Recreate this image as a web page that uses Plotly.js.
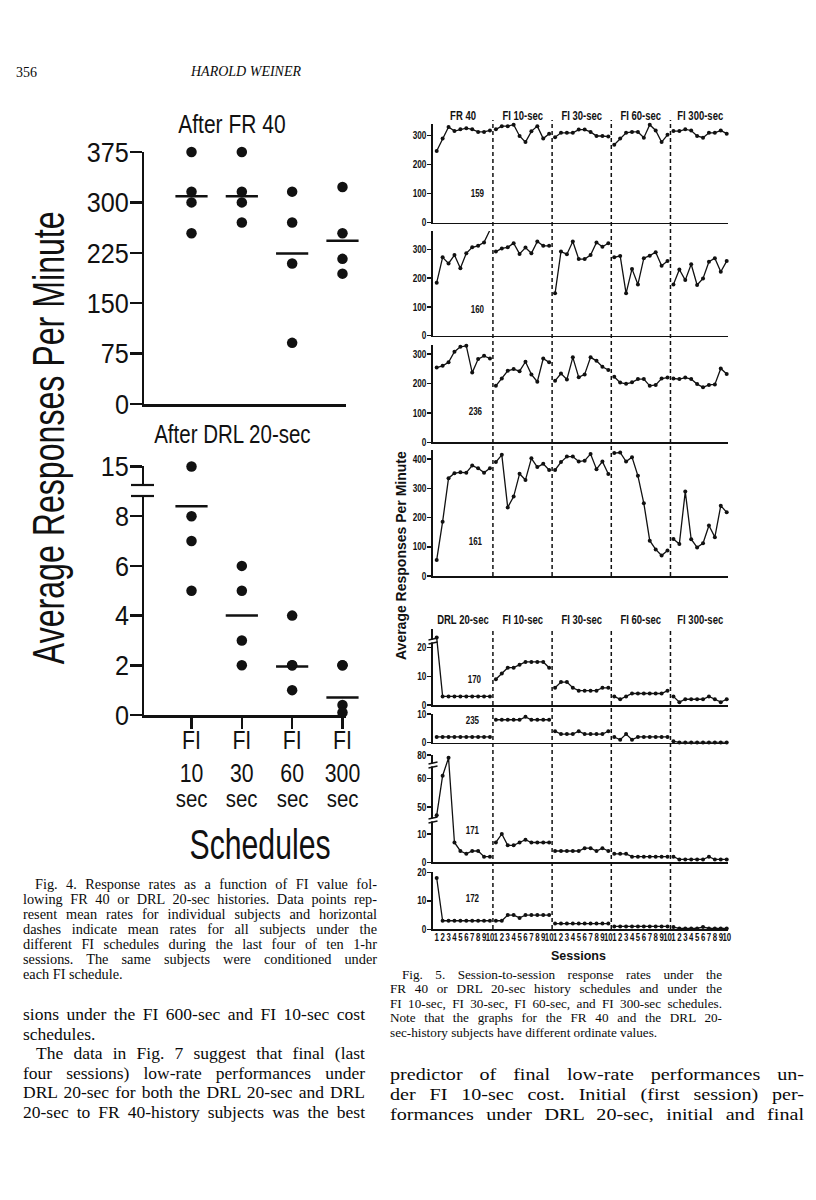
<!DOCTYPE html>
<html><head><meta charset="utf-8">
<script src="https://cdn.plot.ly/plotly-3.0.1.min.js"></script>
<style>
body{margin:0;background:#fff;}
#wrap{position:relative;width:816px;height:1200px;overflow:hidden;background:#fff;}
#chart{position:absolute;left:0;top:0;width:816px;height:1200px;}
.t{position:absolute;font-family:"Liberation Serif","DejaVu Serif",serif;color:#0a0a0a;white-space:nowrap;}
.j{text-align:justify;text-align-last:justify;}
</style></head>
<body><div id="wrap"><div id="chart"></div></div>
<script>
// ---------------- Fig. 4 data ----------------
const fiValues = ['10', '30', '60', '300'];
const fr40Fi10 = [375, 316, 300, 254];
const fr40Fi30 = [375, 316, 300, 270];
const fr40Fi60 = [316, 270, 209, 91];
const fr40Fi300 = [323, 254, 216, 194];
const fr40Means = [309, 309, 224, 243];
const drlFi10 = [15, 8, 7, 5];
const drlFi30 = [6, 5, 3, 2];
const drlFi60 = [4, 2, 2, 1];
const drlFi300 = [2, 2, 0.4, 0.1];
const drlMeans = [8.4, 4, 1.95, 0.7];
const fr40Ticks = [0, 75, 150, 225, 300, 375];
const drlTicks = [0, 2, 4, 6, 8, 15];

// ---------------- Fig. 5 data ----------------
const fr40Phases = ['FR 40', 'FI 10-sec', 'FI 30-sec', 'FI 60-sec', 'FI 300-sec'];
const drlPhases = ['DRL 20-sec', 'FI 10-sec', 'FI 30-sec', 'FI 60-sec', 'FI 300-sec'];
const sessionLabels = ['1','2','3','4','5','6','7','8','9','10'];
const s159 = [247,290,330,316,322,326,322,313,313,318, 322,333,333,338,299,278,315,333,290,307, 295,310,310,310,321,321,313,299,299,297, 269,290,310,313,313,293,338,318,278,303, 316,316,322,318,299,293,310,310,318,307];
const s160 = [184,272,251,280,234,286,307,312,324,367, 292,303,307,321,284,306,286,327,312,312, 147,292,283,327,266,266,280,324,309,321, 272,277,147,232,178,269,278,290,243,259, 178,230,193,248,176,199,257,269,222,259];
const s236 = [254,260,272,308,325,328,237,283,294,285, 192,217,243,249,242,274,231,206,285,272, 209,234,214,289,221,231,289,277,257,246, 223,203,199,204,215,215,192,195,217,220, 217,215,220,215,198,187,195,197,251,232];
const s161 = [55,186,335,352,355,354,378,369,354,369, 390,415,235,272,350,329,403,373,384,363, 363,390,409,409,392,395,418,366,392,349, 421,423,392,407,343,249,121,91,70,87, 127,110,289,126,98,112,173,133,241,218];
const s170 = [47,3,3,3,3,3,3,3,3,3, 9,11,13,13,14,15,15,15,15,13, 6,8,8,6,5,5,5,5,6,6, 3,2,3,4,4,4,4,4,4,5, 3,1,2,2,2,2,3,2,1,2];
const s235 = [2,2,2,2,2,2,2,2,2,2, 8,8,8,8,8,9,8,8,8,8, 4,3,3,3,4,3,3,3,3,4, 2,1,3,1,2,2,2,2,2,2, 0.5,0.1,0.1,0.1,0.1,0.1,0.1,0.1,0.1,0.1];
const s171 = [47,61,79,7,4,3,4,4,2,2, 7,10,6,6,7,8,7,7,7,7, 4,4,4,4,4,5,5,4,5,4, 3,3,3,2,2,2,2,2,2,2, 2,1,1,1,1,1,2,1,1,1];
const s172 = [18,3,3,3,3,3,3,3,3,3, 3,3,5,5,4,5,5,5,5,5, 2,2,2,2,2,2,2,2,2,2, 1,1,1,1,1,1,1,1,1,1, 0.8,0.3,0.3,0.3,0.3,0.8,0.3,0.3,0.3,0.3];

// ---------------- page text ----------------
const fig4Caption = [
 'Fig. 4. Response rates as a function of FI value fol-',
 'lowing FR 40 or DRL 20-sec histories. Data points rep-',
 'resent mean rates for individual subjects and horizontal',
 'dashes indicate mean rates for all subjects under the',
 'different FI schedules during the last four of ten 1-hr',
 'sessions. The same subjects were conditioned under',
 'each FI schedule.'];
const leftBody = [
 'sions under the FI 600-sec and FI 10-sec cost',
 'schedules.',
 'The data in Fig. 7 suggest that final (last',
 'four sessions) low-rate performances under',
 'DRL 20-sec for both the DRL 20-sec and DRL',
 '20-sec to FR 40-history subjects was the best'];
const fig5Caption = [
 'Fig. 5. Session-to-session response rates under the',
 'FR 40 or DRL 20-sec history schedules and under the',
 'FI 10-sec, FI 30-sec, FI 60-sec, and FI 300-sec schedules.',
 'Note that the graphs for the FR 40 and the DRL 20-',
 'sec-history subjects have different ordinate values.'];
const rightBody = [
 'predictor of final low-rate performances un-',
 'der FI 10-sec cost. Initial (first session) per-',
 'formances under DRL 20-sec, initial and final'];

// ---------------- helpers ----------------
const W = 816, H = 1200;
const fx = p => p / W;
const fy = p => 1 - p / H;
const SANS = '"Liberation Sans", Arial, sans-serif';
const INK = '#111';
function disp(v, breaks) {            // broken-axis mapping
  if (v === null) return null;
  let d = v;
  (breaks || []).forEach(b => { if (v >= b.min) d = v - b.shift; });
  return d;
}
const traces = [], annotations = [], shapes = [];
const annScale = [];                  // horizontal condensing per annotation
function ann(o, scale) {
  annotations.push(Object.assign({xref: 'paper', yref: 'paper', showarrow: false, xanchor: 'center', yanchor: 'middle'}, o));
  annScale.push(scale || 1);
}
const layout = {
  width: W, height: H, margin: {l: 0, r: 0, t: 0, b: 0},
  paper_bgcolor: '#fff', plot_bgcolor: 'rgba(0,0,0,0)', showlegend: false,
  font: {family: SANS, color: INK}
};

// ---------- Fig. 4 ----------
const leftX = {domain: [fx(144), fx(346)], range: [0.056, 4.07], showgrid: false, zeroline: false,
  showline: true, linewidth: 2.5, linecolor: INK};
const leftY = {showgrid: false, zeroline: false, showline: true, linewidth: 2.5, linecolor: INK,
  ticks: 'outside', ticklen: 12, tickwidth: 2.5, tickcolor: INK, ticklabelstandoff: -5,
  tickfont: {family: SANS, size: 28, color: INK}};
layout.xaxis = Object.assign({}, leftX, {anchor: 'y', ticks: '', showticklabels: false});
layout.yaxis = Object.assign({}, leftY, {domain: [fy(404), fy(152)], range: [0, 375], anchor: 'x',
  tickvals: fr40Ticks, ticktext: fr40Ticks.map(String)});
const drlBreaks = [{min: 12, shift: 5}];
layout.xaxis2 = Object.assign({}, leftX, {anchor: 'y2', ticks: 'outside', ticklen: 11, tickwidth: 2.5, tickcolor: INK,
  tickvals: [1, 2, 3, 4], ticktext: fiValues.map(v => 'FI<br>' + v), tickangle: 0, ticklabelstandoff: -9,
  tickfont: {family: SANS, size: 25, color: INK}});
layout.yaxis2 = Object.assign({}, leftY, {domain: [fy(715), fy(466)], range: [0, disp(15, drlBreaks) + 0.02], anchor: 'x2',
  tickvals: drlTicks.map(v => disp(v, drlBreaks)), ticktext: drlTicks.map(String)});

const dotMarker = {symbol: 'circle', size: 10.5, color: INK};
const dashMarker = {symbol: 'line-ew', size: 23, line: {width: 2.5, color: INK}};
[fr40Fi10, fr40Fi30, fr40Fi60, fr40Fi300].forEach((vals, i) => {
  traces.push({type: 'scatter', mode: 'markers', xaxis: 'x', yaxis: 'y', x: vals.map(() => i + 1), y: vals,
    marker: dotMarker, cliponaxis: false});
});
traces.push({type: 'scatter', mode: 'markers', xaxis: 'x', yaxis: 'y', x: [1, 2, 3, 4], y: fr40Means,
  marker: dashMarker, cliponaxis: false});
[drlFi10, drlFi30, drlFi60, drlFi300].forEach((vals, i) => {
  traces.push({type: 'scatter', mode: 'markers', xaxis: 'x2', yaxis: 'y2', x: vals.map(() => i + 1),
    y: vals.map(v => disp(v, drlBreaks)), marker: dotMarker, cliponaxis: false});
});
traces.push({type: 'scatter', mode: 'markers', xaxis: 'x2', yaxis: 'y2', x: [1, 2, 3, 4], y: drlMeans.map(v => disp(v, drlBreaks)),
  marker: dashMarker, cliponaxis: false});

// axis break on the lower-left ordinate
shapes.push({type: 'rect', xref: 'paper', yref: 'paper', x0: fx(140), x1: fx(147), y0: fy(495), y1: fy(486), fillcolor: '#fff', line: {width: 0}});
[485, 496].forEach(py => shapes.push({type: 'line', xref: 'paper', yref: 'paper', x0: fx(131), x1: fx(154), y0: fy(py), y1: fy(py), line: {color: INK, width: 2.2}}));

ann({text: 'After FR 40', x: fx(232), y: fy(124), font: {family: SANS, size: 25, color: INK}}, 0.84);
ann({text: 'After DRL 20-sec', x: fx(232), y: fy(434), font: {family: SANS, size: 25, color: INK}}, 0.82);
ann({text: 'Average Responses Per Minute', x: fx(48), y: fy(438), textangle: -90, font: {family: SANS, size: 44, color: INK}}, 0.73);
ann({text: 'Schedules', x: fx(260), y: fy(844), font: {family: SANS, size: 42, color: INK}}, 0.72);
fiValues.forEach((v, i) => ann({text: 'sec', x: i + 1, xref: 'x2', y: fy(798), font: {family: SANS, size: 24, color: INK}}, 0.85));

// ---------- Fig. 5 ----------
const panels = [
  {vals: s159, id: '159', top: 124, bot: 222.7, perUnit: 0.29, ticks: [0,100,200,300], idPos: [477, 194]},
  {vals: s160, id: '160', top: 231, bot: 335.7, perUnit: 0.288, ticks: [0,100,200,300], idPos: [477, 309]},
  {vals: s236, id: '236', top: 345, bot: 442.3, perUnit: 0.294, ticks: [0,100,200,300], idPos: [475, 412]},
  {vals: s161, id: '161', top: 450, bot: 576, perUnit: 0.292, ticks: [0,100,200,300,400], idPos: [475, 541]},
  {vals: s170, id: '170', top: 629, bot: 705, perUnit: 2.87, ticks: [0,10,20,50], breaks: [{min: 40, shift: 23.5}], idPos: [474, 679]},
  {vals: s235, id: '235', top: 714, bot: 742.7, perUnit: 2.87, ticks: [0,10], idPos: [472, 720]},
  {vals: s171, id: '171', top: 755, bot: 862.3, perUnit: 2.83, ticks: [0,10,50,60,80], breaks: [{min: 40, shift: 30.4}, {min: 70, shift: 42.1}], idPos: [472, 830]},
  {vals: s172, id: '172', top: 872.3, bot: 929.3, perUnit: 2.85, ticks: [0,10,20], idPos: [472, 898]}
];
const perPhase = sessionLabels.length;
panels.forEach((p, k) => {
  const n = k + 3, xa = 'x' + n, ya = 'y' + n;
  const last = k === panels.length - 1;
  layout['xaxis' + n] = {domain: [fx(433), fx(728)], range: [0.375, 50.22], anchor: ya, showgrid: false, zeroline: false,
    showline: true, linewidth: 1.6, linecolor: INK, ticks: '',
    showticklabels: last, tickmode: 'array',
    tickvals: p.vals.map((v, i) => i + 1), ticktext: p.vals.map((v, i) => sessionLabels[i % perPhase]),
    tickangle: 0, ticklabelstandoff: -2, tickfont: {family: SANS, size: 10, color: INK, weight: 'bold'}};
  layout['yaxis' + n] = {domain: [fy(p.bot), fy(p.top)], range: [0, (p.bot - p.top) / p.perUnit], anchor: xa,
    showgrid: false, zeroline: false, showline: true, linewidth: 1.6, linecolor: INK,
    ticks: 'outside', ticklen: 4, tickwidth: 1.5, tickcolor: INK, ticklabelstandoff: -1,
    tickvals: p.ticks.map(v => disp(v, p.breaks)), ticktext: p.ticks.map(String),
    tickfont: {family: SANS, size: 10.5, color: INK, weight: 'bold'}};
  const xs = [], ys = [];
  p.vals.forEach((v, i) => {
    xs.push(i + 1); ys.push(disp(v, p.breaks));
    if ((i + 1) % perPhase === 0) { xs.push(null); ys.push(null); }
  });
  traces.push({type: 'scatter', mode: 'lines+markers', xaxis: xa, yaxis: ya, x: xs, y: ys, connectgaps: false,
    line: {color: INK, width: 1.3}, marker: {size: 4, color: INK}, cliponaxis: false});
  ann({text: p.id, x: fx(p.idPos[0]), y: fy(p.idPos[1]), font: {family: SANS, size: 10, color: INK, weight: 'bold'}}, 0.8);
});
// axis-break marks on the right ordinates (decoration)
[[639, 643], [763, 767], [818, 822]].forEach(pair => {
  shapes.push({type: 'rect', xref: 'paper', yref: 'paper', x0: fx(431), x1: fx(435), y0: fy(pair[1] - 0.6), y1: fy(pair[0] + 0.6), fillcolor: '#fff', line: {width: 0}});
  pair.forEach(py => shapes.push({type: 'line', xref: 'paper', yref: 'paper', x0: fx(428.5), x1: fx(437.5), y0: fy(py + 1), y1: fy(py - 1), line: {color: INK, width: 1.3}}));
});
// phase separators and headers
const groups = [{phases: fr40Phases, xa: 'x3', y0: 576, y1: 120, headY: 116}, {phases: drlPhases, xa: 'x7', y0: 929, y1: 628, headY: 620}];
groups.forEach(g => {
  g.phases.forEach((name, j) => {
    ann({text: name, x: j * perPhase + (perPhase + 1) / 2, xref: g.xa, y: fy(g.headY),
      font: {family: SANS, size: 12.5, color: INK, weight: 'bold'}}, 0.76);
    if (j > 0) shapes.push({type: 'line', xref: g.xa, yref: 'paper', x0: j * perPhase + 0.5, x1: j * perPhase + 0.5,
      y0: fy(g.y0), y1: fy(g.y1), line: {color: INK, width: 1.5, dash: '4px,3px'}});
  });
});
ann({text: 'Average Responses Per Minute', x: fx(401), y: fy(556), textangle: -90, font: {family: SANS, size: 14, color: INK, weight: 'bold'}}, 1);
ann({text: 'Sessions', x: fx(578), y: fy(956), font: {family: SANS, size: 12.5, color: INK, weight: 'bold'}}, 1);

layout.annotations = annotations;
layout.shapes = shapes;

// horizontal condensing of SVG text (the original lettering is a condensed face)
function condense(el, s) {
  if (!el || s === 1) return;
  const bb = el.getBBox();
  const anc = el.getAttribute('text-anchor') || getComputedStyle(el).textAnchor || 'start';
  const cx = anc === 'end' ? bb.x + bb.width : (anc === 'middle' ? bb.x + bb.width / 2 : bb.x);
  const prev = el.getAttribute('transform') || '';
  el.setAttribute('transform', prev + ' translate(' + cx + ',0) scale(' + s + ',1) translate(' + (-cx) + ',0)');
}
const tickScale = {y: 0.9, y2: 0.9, x2: 0.85, x10: 0.78};
for (let n = 3; n <= 10; n++) tickScale['y' + n] = 0.78;

Plotly.newPlot('chart', traces, layout, {staticPlot: true, displayModeBar: false}).then(gd => {
  Object.keys(tickScale).forEach(id => {
    gd.querySelectorAll('g.' + id + 'tick text').forEach(t => condense(t, tickScale[id]));
  });
  gd.querySelectorAll('g.annotation').forEach(g => {
    const i = +g.getAttribute('data-index');
    const t = g.querySelector('text');
    condense(t, annScale[i]);
  });
});

// ---------------- page text (HTML) ----------------
const wrap = document.getElementById('wrap');
function addText(txt, style, cls) {
  const d = document.createElement('div');
  d.className = 't' + (cls ? ' ' + cls : '');
  d.textContent = txt;
  Object.assign(d.style, style);
  wrap.appendChild(d);
}
addText('356', {left: '16px', top: '65px', fontSize: '14px'});
addText('HAROLD WEINER', {left: '191px', top: '64px', fontSize: '14px', fontStyle: 'italic'});
function block(lines, o) {
  const k = o.scale || 1;
  lines.forEach((s, i) => {
    const ind = (o.indent || []).includes(i) ? o.indentPx : 0;
    const just = !(o.plain || []).includes(i);
    addText(s, {left: (o.left + ind) + 'px', top: (o.first + i * o.step - o.size * 0.62) + 'px',
      width: ((o.right - o.left - ind) / k) + 'px', fontSize: o.size + 'px', lineHeight: (o.size * 1.2) + 'px',
      transform: 'scaleX(' + k + ')', transformOrigin: 'left center'}, just ? 'j' : '');
  });
}
block(fig4Caption, {left: 23, right: 377, first: 885, step: 15, size: 14.3, indent: [0], indentPx: 12, plain: [6]});
block(leftBody, {left: 23, right: 365, first: 1015, step: 19.5, size: 17.5, indent: [2], indentPx: 13, plain: [1]});
block(fig5Caption, {left: 390, right: 722, first: 975, step: 14.5, size: 13.2, indent: [0], indentPx: 12, plain: [4]});
block(rightBody, {left: 390, right: 804, first: 1075, step: 20, size: 17.5, scale: 1.15});
</script>
</body></html>
